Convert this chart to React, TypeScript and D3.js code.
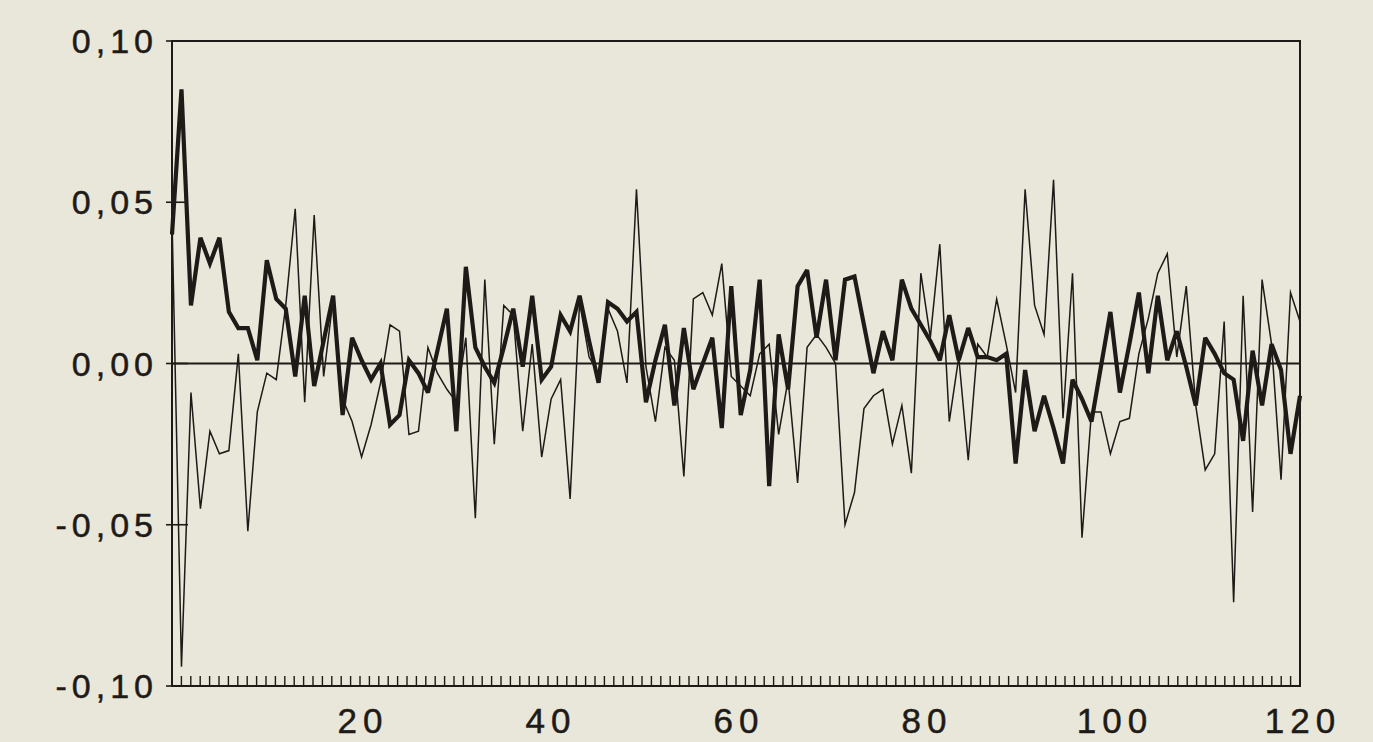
import React from "react";
import * as d3 from "d3";

// Thick series (values per observation, index 0..119)
const thickSeries: number[] = [
  0.040, 0.085, 0.018, 0.039, 0.031, 0.039, 0.016, 0.011, 0.011, 0.001,
  0.032, 0.020, 0.017, -0.004, 0.021, -0.007, 0.007, 0.021, -0.016, 0.008,
  0.001, -0.005, 0.000, -0.019, -0.016, 0.001, -0.003, -0.009, 0.004, 0.017,
  -0.021, 0.030, 0.005, -0.001, -0.006, 0.005, 0.017, -0.001, 0.021, -0.005,
  -0.001, 0.015, 0.010, 0.021, 0.007, -0.006, 0.019, 0.017, 0.013, 0.016,
  -0.012, 0.001, 0.012, -0.013, 0.011, -0.008, 0.000, 0.008, -0.020, 0.024,
  -0.016, -0.002, 0.026, -0.038, 0.009, -0.008, 0.024, 0.029, 0.008, 0.026,
  0.001, 0.026, 0.027, 0.012, -0.003, 0.010, 0.001, 0.026, 0.017, 0.012,
  0.007, 0.001, 0.015, 0.001, 0.011, 0.002, 0.002, 0.001, 0.003, -0.031,
  -0.002, -0.021, -0.010, -0.020, -0.031, -0.005, -0.011, -0.018, -0.001, 0.016,
  -0.009, 0.006, 0.022, -0.003, 0.021, 0.001, 0.010, -0.001, -0.013, 0.008,
  0.003, -0.003, -0.005, -0.024, 0.004, -0.013, 0.006, -0.002, -0.028, -0.010,
];

// Thin series
const thinSeries: number[] = [
  0.045, -0.094, -0.009, -0.045, -0.021, -0.028, -0.027, 0.003, -0.052, -0.015,
  -0.003, -0.005, 0.018, 0.048, -0.012, 0.046, -0.004, 0.020, -0.011, -0.018,
  -0.029, -0.019, -0.006, 0.012, 0.010, -0.022, -0.021, 0.005, -0.003, -0.008,
  -0.012, 0.008, -0.048, 0.026, -0.025, 0.018, 0.015, -0.021, 0.006, -0.029,
  -0.011, -0.005, -0.042, 0.019, 0.002, -0.003, 0.017, 0.010, -0.006, 0.054,
  -0.001, -0.018, 0.005, 0.001, -0.035, 0.020, 0.022, 0.015, 0.031, -0.004,
  -0.007, -0.010, 0.003, 0.006, -0.022, -0.005, -0.037, 0.005, 0.009, 0.005,
  0.000, -0.050, -0.040, -0.014, -0.010, -0.008, -0.025, -0.013, -0.034, 0.028,
  0.008, 0.037, -0.018, 0.002, -0.030, 0.006, 0.002, 0.020, 0.006, -0.009,
  0.054, 0.018, 0.009, 0.057, -0.017, 0.028, -0.054, -0.015, -0.015, -0.028,
  -0.018, -0.017, 0.003, 0.014, 0.028, 0.034, 0.002, 0.024, -0.013, -0.033,
  -0.028, 0.013, -0.074, 0.021, -0.046, 0.026, 0.006, -0.036, 0.022, 0.013,
];

const yTickValues: number[] = [0.1, 0.05, 0, -0.05, -0.1];
const yTickLabels: string[] = ["0,10", "0,05", "0,00", "-0,05", "-0,10"];
const xTickValues: number[] = [20, 40, 60, 80, 100, 120];
const xTickLabels: string[] = ["20", "40", "60", "80", "100", "120"];

const W = 1373;
const H = 742;
const PLOT = { left: 172, right: 1300, top: 41, bottom: 686 };
const INK = "#1e1a17";
const PAPER = "#e8e7d9";
const FONT = "'Liberation Sans', Arial, Helvetica, sans-serif";

export default function App() {
  const xAxis = d3.scaleLinear().domain([0, 120]).range([PLOT.left, PLOT.right]);
  const xObs = d3
    .scaleLinear()
    .domain([0, thickSeries.length - 1])
    .range([PLOT.left, PLOT.right]);
  const y = d3.scaleLinear().domain([-0.1, 0.1]).range([PLOT.bottom, PLOT.top]);

  const line = d3
    .line<number>()
    .x((_, i) => xObs(i))
    .y((d) => y(d))
    .curve(d3.curveLinear);

  const minorTicks = d3.range(1, 120);

  return (
    <svg
      width={W}
      height={H}
      style={{ position: "absolute", left: 0, top: 0, display: "block" }}
    >
      <rect x={0} y={0} width={W} height={H} fill={PAPER} />

      {/* zero line */}
      <line
        x1={PLOT.left}
        x2={PLOT.right}
        y1={y(0)}
        y2={y(0)}
        stroke={INK}
        strokeWidth={2.2}
      />

      {/* minor x ticks */}
      {minorTicks.map((t) => (
        <line
          key={"mt" + t}
          x1={xAxis(t)}
          x2={xAxis(t)}
          y1={PLOT.bottom}
          y2={PLOT.bottom - 10}
          stroke={INK}
          strokeWidth={1.4}
        />
      ))}

      {/* y ticks */}
      {yTickValues.map((v) => (
        <line
          key={"yt" + v}
          x1={PLOT.left - 6}
          x2={PLOT.left + 16}
          y1={y(v)}
          y2={y(v)}
          stroke={INK}
          strokeWidth={1.6}
        />
      ))}

      {/* thin series */}
      <path
        d={line(thinSeries) || ""}
        fill="none"
        stroke={INK}
        strokeWidth={1.5}
        strokeLinejoin="miter"
        strokeMiterlimit={6}
      />
      {/* thick series */}
      <path
        d={line(thickSeries) || ""}
        fill="none"
        stroke={INK}
        strokeWidth={4.2}
        strokeLinejoin="miter"
        strokeMiterlimit={3}
      />

      {/* frame */}
      <rect
        x={PLOT.left}
        y={PLOT.top}
        width={PLOT.right - PLOT.left}
        height={PLOT.bottom - PLOT.top}
        fill="none"
        stroke={INK}
        strokeWidth={2}
      />

      {/* y labels */}
      {yTickValues.map((v, i) => (
        <text
          key={"yl" + v}
          x={158}
          y={y(v) + 12}
          textAnchor="end"
          fontFamily={FONT}
          fontSize={34}
          letterSpacing={5}
          fill={INK}
          stroke={INK}
          strokeWidth={0.5}
        >
          {yTickLabels[i]}
        </text>
      ))}

      {/* x labels */}
      {xTickValues.map((v, i) => (
        <text
          key={"xl" + v}
          x={xAxis(v) + 3}
          y={733}
          textAnchor="middle"
          fontFamily={FONT}
          fontSize={35}
          letterSpacing={6}
          fill={INK}
          stroke={INK}
          strokeWidth={0.5}
        >
          {xTickLabels[i]}
        </text>
      ))}
    </svg>
  );
}
